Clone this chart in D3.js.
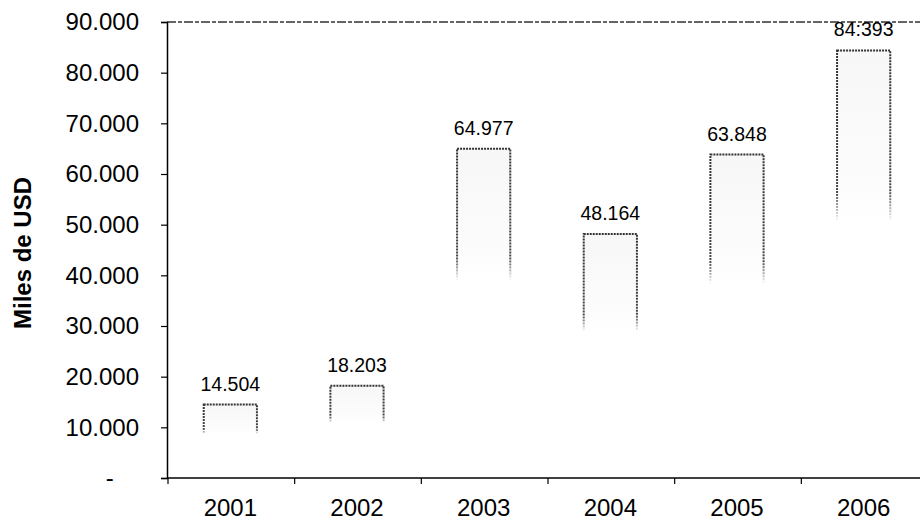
<!DOCTYPE html>
<html>
<head>
<meta charset="utf-8">
<script src="https://cdn.jsdelivr.net/npm/d3@7"></script>
<style>
  html, body { margin: 0; padding: 0; background: #fff; }
  svg { display: block; font-family: "Liberation Sans", Arial, Helvetica, sans-serif; }
</style>
</head>
<body>
<svg id="chart" width="920" height="522"></svg>
<script>
// Exportaciones anuales, miles de USD
const years = ["2001", "2002", "2003", "2004", "2005", "2006"];
const values = [14504, 18203, 64977, 48164, 63848, 84393];
const valueLabels = ["14.504", "18.203", "64.977", "48.164", "63.848", "84:393"];
const yTicks = [0, 10000, 20000, 30000, 40000, 50000, 60000, 70000, 80000, 90000];
const yTitle = "Miles de USD";

const svg = d3.select("#chart");
const margin = { top: 22, right: -7, bottom: 44, left: 167 };
const W = 920, H = 522;

const x = d3.scaleBand()
  .domain(years)
  .range([margin.left, W - margin.right])
  .paddingInner(0.58)
  .paddingOuter(0.29);

const y = d3.scaleLinear()
  .domain([0, 90000])
  .range([H - margin.bottom, margin.top]);

const fmt = v => v === 0 ? "-\u2007\u2002" : d3.format(",")(v).replace(/,/g, ".");

// Gradients: bar edges and fill fade out toward the base
const defs = svg.append("defs");
const edge = defs.append("linearGradient").attr("id", "edgeFade")
  .attr("x1", 0).attr("y1", 0).attr("x2", 0).attr("y2", 1);
edge.append("stop").attr("offset", 0).attr("stop-color", "#333").attr("stop-opacity", 1);
edge.append("stop").attr("offset", 0.33).attr("stop-color", "#333").attr("stop-opacity", 0.9);
edge.append("stop").attr("offset", 0.4).attr("stop-color", "#333").attr("stop-opacity", 0);
edge.append("stop").attr("offset", 1).attr("stop-color", "#333").attr("stop-opacity", 0);

const fill = defs.append("linearGradient").attr("id", "fillFade")
  .attr("x1", 0).attr("y1", 0).attr("x2", 0).attr("y2", 1);
fill.append("stop").attr("offset", 0).attr("stop-color", "#999").attr("stop-opacity", 0.08);
fill.append("stop").attr("offset", 0.3).attr("stop-color", "#999").attr("stop-opacity", 0.03);
fill.append("stop").attr("offset", 0.4).attr("stop-color", "#999").attr("stop-opacity", 0);

// Top frame line
svg.append("line")
  .attr("x1", margin.left).attr("x2", W)
  .attr("y1", y(90000)).attr("y2", y(90000))
  .attr("stroke", "#333").attr("stroke-width", 1.5)
  .attr("stroke-dasharray", "9 2 4 2");

// Bars
svg.append("g").selectAll("rect")
  .data(values)
  .join("rect")
  .attr("x", (d, i) => x(years[i]))
  .attr("width", x.bandwidth())
  .attr("y", d => y(d))
  .attr("height", d => y(0) - y(d))
  .attr("fill", "url(#fillFade)")
  .attr("stroke", "url(#edgeFade)")
  .attr("stroke-width", 2)
  .attr("stroke-dasharray", "2 1");

// Value labels
svg.append("g").selectAll("text")
  .data(values)
  .join("text")
  .attr("x", (d, i) => x(years[i]) + x.bandwidth() / 2)
  .attr("y", d => y(d) - 14)
  .attr("text-anchor", "middle")
  .attr("font-size", 19.5)
  .attr("fill", "#000")
  .text((d, i) => valueLabels[i]);

// Y axis
const yAxis = svg.append("g")
  .attr("transform", `translate(${margin.left},0)`)
  .call(d3.axisLeft(y).tickValues(yTicks).tickFormat(fmt).tickSize(6).tickPadding(22));
yAxis.select(".domain").attr("stroke", "#000").attr("stroke-width", 1.5);
yAxis.selectAll(".tick line").attr("stroke", "#000").attr("stroke-width", 1.2);
yAxis.selectAll(".tick text").attr("font-size", 24).attr("fill", "#000")
  .style("white-space", "pre");

// X axis with category boundary ticks
const xAxisG = svg.append("g").attr("transform", `translate(0,${y(0)})`);
xAxisG.append("line")
  .attr("x1", margin.left).attr("x2", W)
  .attr("stroke", "#000").attr("stroke-width", 1.5);
const step = x.step();
xAxisG.selectAll("line.bound")
  .data(years)
  .join("line")
  .attr("class", "bound")
  .attr("x1", d => x(d) - x.paddingOuter() * step + 1)
  .attr("x2", d => x(d) - x.paddingOuter() * step + 1)
  .attr("y1", 0).attr("y2", 6)
  .attr("stroke", "#000").attr("stroke-width", 1.2);
xAxisG.selectAll("text")
  .data(years)
  .join("text")
  .attr("x", d => x(d) + x.bandwidth() / 2)
  .attr("y", 38)
  .attr("text-anchor", "middle")
  .attr("font-size", 24)
  .attr("fill", "#000")
  .text(d => d);

// Y axis title
svg.append("text")
  .attr("transform", `translate(31,${(y(0) + y(90000)) / 2 + 3}) rotate(-90)`)
  .attr("text-anchor", "middle")
  .attr("font-size", 24)
  .attr("font-weight", "bold")
  .attr("fill", "#000")
  .text(yTitle);
</script>
</body>
</html>
